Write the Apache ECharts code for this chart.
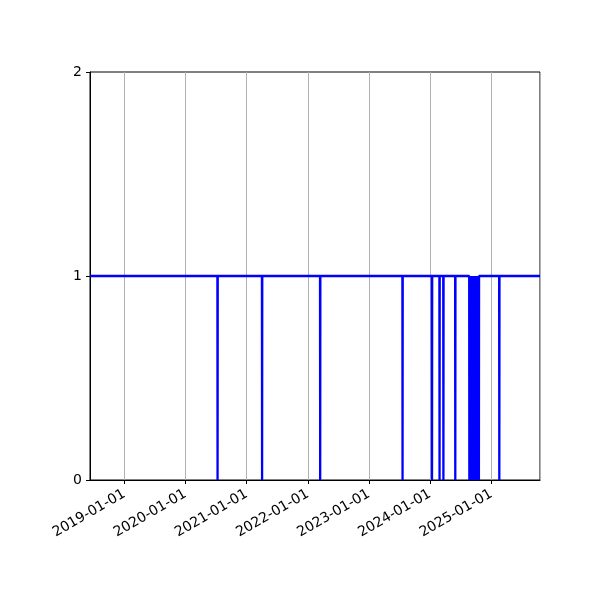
<!DOCTYPE html>
<html>
<head>
<meta charset="utf-8">
<script src="https://cdn.jsdelivr.net/npm/echarts@6/dist/echarts.min.js"></script>
<style>
  html, body { margin: 0; padding: 0; background: #fff; }
  #chart { width: 600px; height: 600px; }
</style>
</head>
<body>
<div id="chart"></div>
<script>
// range of the x axis
var startDate = '2018-06-10'
var endDate = '2025-10-19'
// days on which the value drops from 1 to 0
var dropDates = [
  '2020-07-11', '2021-04-03', '2022-03-16', '2023-07-21',
  '2024-01-13', '2024-02-27', '2024-03-21', '2024-05-31',
  '2024-08-23', '2024-08-26', '2024-08-29', '2024-09-01', '2024-09-04',
  '2024-09-07', '2024-09-10', '2024-09-13', '2024-09-16', '2024-09-19',
  '2024-09-22', '2024-09-25', '2024-09-28', '2024-10-01', '2024-10-04',
  '2024-10-07', '2024-10-10', '2024-10-13', '2024-10-16', '2024-10-19',
  '2025-02-18'
]
var yTicks = [0, 1, 2]

var DAY = 86400000
function ts (s) { return new Date(s + 'T00:00:00Z').getTime() }

var lineData = [[ts(startDate), 1]]
dropDates.forEach(function (d) {
  var t = ts(d)
  lineData.push([t - DAY, 1])
  lineData.push([t, 0])
  lineData.push([t + DAY, 1])
})
lineData.push([ts(endDate), 1])

var chart = echarts.init(document.getElementById('chart'))
var font = 'DejaVu Sans'
chart.setOption({
  animation: false,
  backgroundColor: '#fff',
  grid: {
    left: 90, right: 60, top: 72, bottom: 120,
    show: true, borderColor: '#000', borderWidth: 1, backgroundColor: 'transparent'
  },
  xAxis: {
    type: 'time',
    min: ts(startDate),
    max: ts(endDate),
    axisLine: { show: true, lineStyle: { color: '#000', width: 1 } },
    axisTick: { show: true, length: 4, lineStyle: { color: '#000' } },
    splitLine: { show: true, lineStyle: { color: '#b0b0b0', width: 1 } },
    minorTick: { show: false },
    axisLabel: {
      rotate: 30,
      color: '#000',
      fontFamily: font,
      fontSize: 14,
      margin: 13,
      formatter: function (v) {
        return echarts.time.format(v, '{yyyy}-{MM}-{dd}', true)
      }
    }
  },
  yAxis: {
    type: 'value',
    min: 0,
    max: 2,
    interval: 1,
    axisLine: { show: true, lineStyle: { color: '#000', width: 1 } },
    axisTick: { show: true, length: 4, lineStyle: { color: '#000' } },
    splitLine: { show: false },
    axisLabel: {
      color: '#000',
      fontFamily: font,
      fontSize: 14,
      margin: 8,
      formatter: function (v) { return yTicks.indexOf(v) >= 0 ? String(v) : '' }
    }
  },
  series: [{
    type: 'line',
    data: lineData,
    showSymbol: false,
    lineStyle: { color: '#0000ff', width: 2.3, cap: 'butt' },
    z: 3
  }]
})
</script>
</body>
</html>
